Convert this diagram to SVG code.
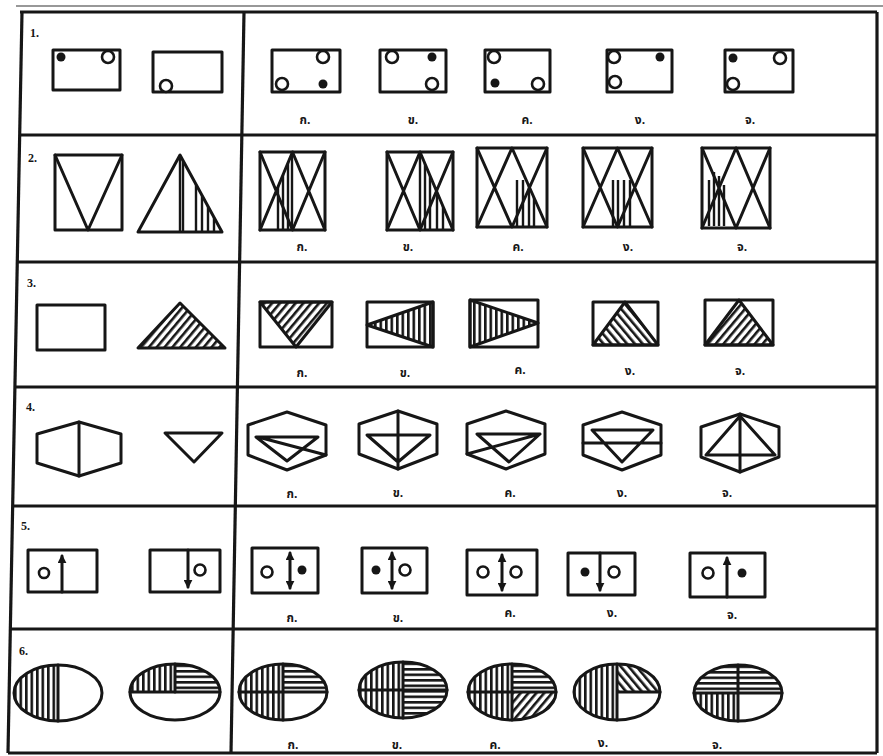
<svg xmlns="http://www.w3.org/2000/svg" width="883" height="756" viewBox="0 0 883 756">
<style>
.ln{stroke:#161616;stroke-width:3;fill:none;stroke-linejoin:round;stroke-linecap:round}
.fr{stroke:#161616;stroke-width:3.2;fill:none}
.op{stroke:#161616;stroke-width:2.6;fill:#fff}
.dt{fill:#161616}
.lb{font-family:"Liberation Serif",serif;font-weight:bold;font-size:12px;fill:#161616}
.ch{font-family:"Noto Sans Thai","Noto Sans","DejaVu Sans",sans-serif;font-weight:bold;font-size:12px;fill:#161616;text-anchor:middle}
.vl{stroke:#161616;stroke-width:2.4}
</style>
<defs>
<pattern id="pv" width="5.5" height="10" patternUnits="userSpaceOnUse"><rect x="0" y="0" width="2.6" height="10" fill="#161616"/></pattern>
<pattern id="ph" width="10" height="5.5" patternUnits="userSpaceOnUse"><rect x="0" y="0" width="10" height="2.6" fill="#161616"/></pattern>
<pattern id="pf" width="6" height="10" patternUnits="userSpaceOnUse" patternTransform="rotate(40)"><rect x="0" y="0" width="2.6" height="10" fill="#161616"/></pattern>
<pattern id="pb" width="6" height="10" patternUnits="userSpaceOnUse" patternTransform="rotate(-40)"><rect x="0" y="0" width="2.6" height="10" fill="#161616"/></pattern>
<marker id="ah" viewBox="0 0 10 10" refX="8" refY="5" markerWidth="3" markerHeight="3" orient="auto-start-reverse"><path d="M0,0 L10,5 L0,10 Z" fill="#161616"/></marker>
<path id="qTL" d="M0,0 L-44,0 A44,28 0 0 1 0,-28 Z"/>
<path id="qTR" d="M0,0 L0,-28 A44,28 0 0 1 44,0 Z"/>
<path id="qBR" d="M0,0 L44,0 A44,28 0 0 1 0,28 Z"/>
<path id="qBL" d="M0,0 L0,28 A44,28 0 0 1 -44,0 Z"/>
<polygon id="hex" points="0,-29 39,-16 39,14 0,29 -39,14 -39,-16"/>
<clipPath id="c2q"><polygon points="180,155 138,232 222,232"/></clipPath>
<clipPath id="c2a"><polygon points="292.5,152 260,230 325,230"/></clipPath>
<clipPath id="c2b"><polygon points="420,152 387,230 453,230"/></clipPath>
<clipPath id="c2c"><polygon points="512,148 477,227 547,227"/></clipPath>
<clipPath id="c2d"><polygon points="617.5,148 583,227 652,227"/></clipPath>
<clipPath id="c2e"><polygon points="702,148 702,228 736,228"/></clipPath>
</defs>
<rect width="883" height="756" fill="#fff"/>

<g id="table">
<line x1="16" y1="6" x2="883" y2="6" stroke="#333" stroke-width="1.2"/>
<line class="fr" x1="20" y1="12" x2="877" y2="12"/>
<line class="fr" x1="19" y1="135" x2="877" y2="135"/>
<line class="fr" x1="17" y1="262" x2="877" y2="262"/>
<line class="fr" x1="14" y1="387" x2="877" y2="387"/>
<line class="fr" x1="12" y1="506" x2="877" y2="506"/>
<line class="fr" x1="10" y1="629" x2="877" y2="629"/>
<line class="fr" x1="8" y1="753" x2="877" y2="753"/>
<line class="fr" x1="22" y1="12" x2="8" y2="753"/>
<line class="fr" x1="244" y1="12" x2="231" y2="753"/>
<line class="fr" x1="877" y1="12" x2="877" y2="753"/>
</g>

<g id="row1">
<text class="lb" x="30" y="37">1.</text>
<rect class="ln" x="53" y="50" width="67" height="40"/>
<circle class="dt" cx="61" cy="57" r="4.5"/><circle class="op" cx="108" cy="57" r="6"/>
<rect class="ln" x="153" y="52" width="69" height="40"/>
<circle class="op" cx="166" cy="86" r="6"/>
<rect class="ln" x="272" y="50" width="68" height="42"/>
<circle class="op" cx="323" cy="57" r="6"/><circle class="op" cx="282" cy="84" r="6"/><circle class="dt" cx="323" cy="84" r="4.5"/>
<rect class="ln" x="380" y="50" width="66" height="42"/>
<circle class="op" cx="392" cy="57" r="6"/><circle class="dt" cx="432" cy="57" r="4.5"/><circle class="op" cx="432" cy="84" r="6"/>
<rect class="ln" x="485" y="50" width="65" height="42"/>
<circle class="op" cx="494" cy="57" r="6"/><circle class="dt" cx="495" cy="83" r="4.5"/><circle class="op" cx="538" cy="84" r="6"/>
<rect class="ln" x="607" y="50" width="65" height="42"/>
<circle class="op" cx="614" cy="57" r="6"/><circle class="dt" cx="660" cy="57" r="4.5"/><circle class="op" cx="615" cy="82" r="6"/>
<rect class="ln" x="725" y="50" width="68" height="42"/>
<circle class="dt" cx="733" cy="58" r="4.5"/><circle class="op" cx="780" cy="58" r="6"/><circle class="op" cx="733" cy="84" r="6"/>
<text class="ch" x="305" y="124">ก.</text><text class="ch" x="413" y="124">ข.</text><text class="ch" x="527" y="124">ค.</text><text class="ch" x="640" y="124">ง.</text><text class="ch" x="750" y="124">จ.</text>
</g>

<g id="row2">
<text class="lb" x="28" y="162">2.</text>
<rect class="ln" x="55" y="155" width="67" height="75"/>
<path class="ln" d="M55,155 L88,230 L122,155"/>
<polygon class="ln" points="180,155 138,232 222,232"/>
<g clip-path="url(#c2q)" class="vl"><line x1="180" y1="150" x2="180" y2="232"/><line x1="183" y1="150" x2="183" y2="232"/><line x1="196" y1="150" x2="196" y2="232"/><line x1="202" y1="150" x2="202" y2="232"/><line x1="208" y1="150" x2="208" y2="232"/><line x1="214" y1="150" x2="214" y2="232"/></g>

<rect class="ln" x="260" y="152" width="65" height="78"/>
<path class="ln" d="M260,152 L292.5,230 L325,152 M260,230 L292.5,152 L325,230"/>
<g clip-path="url(#c2a)" class="vl"><line x1="278" y1="150" x2="278" y2="230"/><line x1="283" y1="150" x2="283" y2="230"/><line x1="288" y1="150" x2="288" y2="230"/><line x1="292" y1="150" x2="292" y2="230"/></g>

<rect class="ln" x="387" y="152" width="66" height="78"/>
<path class="ln" d="M387,152 L420,230 L453,152 M387,230 L420,152 L453,230"/>
<g clip-path="url(#c2b)" class="vl"><line x1="420" y1="150" x2="420" y2="230"/><line x1="425" y1="150" x2="425" y2="230"/><line x1="430" y1="150" x2="430" y2="230"/><line x1="437" y1="150" x2="437" y2="230"/><line x1="443" y1="150" x2="443" y2="230"/></g>

<rect class="ln" x="477" y="148" width="70" height="79"/>
<path class="ln" d="M477,148 L512,227 L547,148 M477,227 L512,148 L547,227"/>
<g clip-path="url(#c2c)" class="vl"><line x1="517" y1="180" x2="517" y2="227"/><line x1="523" y1="180" x2="523" y2="227"/><line x1="529" y1="180" x2="529" y2="227"/><line x1="534" y1="180" x2="534" y2="227"/></g>

<rect class="ln" x="583" y="148" width="69" height="79"/>
<path class="ln" d="M583,148 L617.5,227 L652,148 M583,227 L617.5,148 L652,227"/>
<g clip-path="url(#c2d)" class="vl"><line x1="613" y1="180" x2="613" y2="227"/><line x1="618" y1="180" x2="618" y2="227"/><line x1="624" y1="180" x2="624" y2="227"/><line x1="630" y1="180" x2="630" y2="227"/></g>

<rect class="ln" x="702" y="148" width="68" height="80"/>
<path class="ln" d="M702,148 L736,228 L770,148 M702,228 L736,148 L770,228"/>
<g class="vl"><line x1="709" y1="180" x2="709" y2="226"/><line x1="714" y1="172" x2="714" y2="226"/><line x1="719" y1="176" x2="719" y2="226"/><line x1="724" y1="185" x2="724" y2="226"/></g>

<text class="ch" x="302" y="251">ก.</text><text class="ch" x="408" y="251">ข.</text><text class="ch" x="518" y="251">ค.</text><text class="ch" x="628" y="251">ง.</text><text class="ch" x="742" y="251">จ.</text>
</g>

<g id="row3">
<text class="lb" x="27" y="287">3.</text>
<rect class="ln" x="37" y="305" width="68" height="45"/>
<polygon points="180,303 138,348 225,348" fill="url(#pf)" class="ln" style="fill:url(#pf)"/>
<rect class="ln" x="260" y="302" width="72" height="45"/>
<polygon class="ln" style="fill:url(#pf)" points="260,302 332,302 296,347"/>
<rect class="ln" x="367" y="302" width="66" height="45"/>
<polygon class="ln" style="fill:url(#pv)" points="367,325 433,302 433,347"/>
<rect class="ln" x="470" y="300" width="68" height="47"/>
<polygon class="ln" style="fill:url(#pv)" points="470,300 470,347 538,323"/>
<rect class="ln" x="593" y="302" width="65" height="43"/>
<polygon class="ln" style="fill:url(#pb)" points="625,302 593,345 658,345"/>
<rect class="ln" x="705" y="300" width="68" height="45"/>
<polygon class="ln" style="fill:url(#pf)" points="739,300 705,345 773,345"/>
<text class="ch" x="302" y="377">ก.</text><text class="ch" x="405" y="377">ข.</text><text class="ch" x="520" y="374">ค.</text><text class="ch" x="630" y="375">ง.</text><text class="ch" x="740" y="375">จ.</text>
</g>

<g id="row4">
<text class="lb" x="26" y="411">4.</text>
<polygon class="ln" points="79,422 121,434 121,463 79,476 37,463 37,434"/>
<line class="ln" x1="79" y1="422" x2="79" y2="476"/>
<polygon class="ln" points="165,433 222,433 194,462"/>
<use href="#hex" class="ln" x="287" y="441"/>
<path class="ln" d="M256,437 L318,437 L287,461 Z M258,437 L326,455"/>
<use href="#hex" class="ln" x="398" y="440"/>
<path class="ln" d="M367,435 L430,435 L398,462 Z M398,411 L398,469"/>
<use href="#hex" class="ln" x="506" y="440"/>
<path class="ln" d="M477,434 L540,434 L509,462 Z M467,454 L540,434"/>
<use href="#hex" class="ln" x="622" y="441"/>
<path class="ln" d="M592,430 L653,430 L622,462 Z M583,443 L661,443"/>
<use href="#hex" class="ln" x="740" y="443"/>
<path class="ln" d="M740,416 L775,455 L706,455 Z M740,414 L740,472"/>
<text class="ch" x="292" y="498">ก.</text><text class="ch" x="398" y="497">ข.</text><text class="ch" x="510" y="497">ค.</text><text class="ch" x="622" y="497">ง.</text><text class="ch" x="727" y="497">จ.</text>
</g>

<g id="row5">
<text class="lb" x="21" y="530">5.</text>
<rect class="ln" x="28" y="550" width="69" height="42"/>
<line class="ln" x1="62" y1="592" x2="62" y2="556" marker-end="url(#ah)"/>
<circle class="op" cx="44" cy="573" r="5"/>
<rect class="ln" x="150" y="550" width="70" height="42"/>
<line class="ln" x1="188" y1="550" x2="188" y2="587" marker-end="url(#ah)"/>
<circle class="op" cx="200" cy="570" r="5.5"/>
<rect class="ln" x="252" y="548" width="66" height="45"/>
<line class="ln" x1="290" y1="553" x2="290" y2="588" marker-start="url(#ah)" marker-end="url(#ah)"/>
<circle class="op" cx="267" cy="572" r="5.5"/><circle class="dt" cx="302" cy="570" r="4.5"/>
<rect class="ln" x="362" y="548" width="65" height="45"/>
<line class="ln" x1="392" y1="553" x2="392" y2="588" marker-start="url(#ah)" marker-end="url(#ah)"/>
<circle class="dt" cx="376" cy="570" r="4.5"/><circle class="op" cx="405" cy="570" r="5.5"/>
<rect class="ln" x="467" y="550" width="70" height="45"/>
<line class="ln" x1="502" y1="555" x2="502" y2="590" marker-start="url(#ah)" marker-end="url(#ah)"/>
<circle class="op" cx="483" cy="572" r="5.5"/><circle class="op" cx="516" cy="572" r="5.5"/>
<rect class="ln" x="568" y="553" width="67" height="42"/>
<line class="ln" x1="600" y1="553" x2="600" y2="590" marker-end="url(#ah)"/>
<circle class="dt" cx="585" cy="572" r="4.5"/><circle class="op" cx="614" cy="572" r="5.5"/>
<rect class="ln" x="690" y="553" width="75" height="44"/>
<line class="ln" x1="727" y1="597" x2="727" y2="558" marker-end="url(#ah)"/>
<circle class="op" cx="708" cy="573" r="5.5"/><circle class="dt" cx="742" cy="573" r="4.5"/>
<text class="ch" x="292" y="622">ก.</text><text class="ch" x="398" y="622">ข.</text><text class="ch" x="510" y="617">ค.</text><text class="ch" x="612" y="617">ง.</text><text class="ch" x="732" y="619">จ.</text>
</g>

<g id="row6">
<text class="lb" x="19" y="655">6.</text>
<g transform="translate(58,693)">
<use href="#qTL" fill="url(#pv)"/><use href="#qBL" fill="url(#pv)"/>
<ellipse class="ln" rx="44" ry="28"/><line class="ln" x1="0" y1="-28" x2="0" y2="28"/>
</g>
<g transform="translate(175,692)">
<use href="#qTL" fill="url(#pv)"/><use href="#qTR" fill="url(#ph)"/>
<ellipse class="ln" rx="45" ry="28"/><line class="ln" x1="-45" y1="0" x2="45" y2="0"/><line class="ln" x1="0" y1="-28" x2="0" y2="0"/>
</g>
<g transform="translate(283,692)">
<use href="#qTL" fill="url(#pv)"/><use href="#qTR" fill="url(#ph)"/><use href="#qBL" fill="url(#pv)"/>
<ellipse class="ln" rx="44" ry="28"/><path class="ln" d="M-44,0 H44 M0,-28 V28"/>
</g>
<g transform="translate(403,690)">
<use href="#qTL" fill="url(#pv)"/><use href="#qTR" fill="url(#ph)"/><use href="#qBL" fill="url(#pv)"/><use href="#qBR" fill="url(#ph)"/>
<ellipse class="ln" rx="44" ry="28"/><path class="ln" d="M-44,0 H44 M0,-28 V28"/>
</g>
<g transform="translate(512,692)">
<use href="#qTL" fill="url(#pv)"/><use href="#qTR" fill="url(#ph)"/><use href="#qBL" fill="url(#pv)"/><use href="#qBR" fill="url(#pf)"/>
<ellipse class="ln" rx="44" ry="28"/><path class="ln" d="M-44,0 H44 M0,-28 V28"/>
</g>
<g transform="translate(617,692)">
<use href="#qTL" fill="url(#pv)"/><use href="#qTR" fill="url(#pb)"/><use href="#qBL" fill="url(#pv)"/>
<ellipse class="ln" rx="43" ry="28"/><path class="ln" d="M0,0 H43 M0,-28 V28"/>
</g>
<g transform="translate(738,693)">
<use href="#qTL" fill="url(#ph)"/><use href="#qTR" fill="url(#ph)"/><use href="#qBL" fill="url(#pv)"/>
<ellipse class="ln" rx="44" ry="28"/><path class="ln" d="M-44,0 H44 M0,-28 V28"/>
</g>
<text class="ch" x="293" y="749">ก.</text><text class="ch" x="397" y="749">ข.</text><text class="ch" x="495" y="749">ค.</text><text class="ch" x="603" y="747">ง.</text><text class="ch" x="717" y="749">จ.</text>
</g>
</svg>
